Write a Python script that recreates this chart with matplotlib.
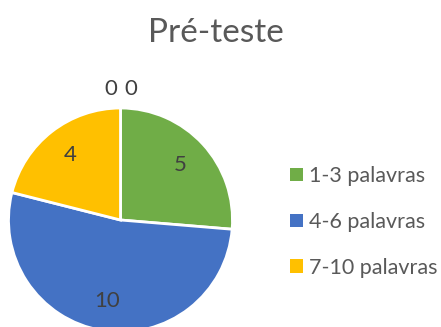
import matplotlib
matplotlib.use("Agg")
import matplotlib.pyplot as plt
from matplotlib.patches import Patch
import numpy as np

# Word-count groups for the pre-test
categories = ["", "", "1-3 palavras", "4-6 palavras", "7-10 palavras"]
values = [0, 0, 5, 10, 4]
colors = ["#A5A5A5", "#ED7D31", "#70AD47", "#4472C4", "#FFC000"]
title = "Pré-teste"

plt.rcParams["font.family"] = ["Lato", "DejaVu Sans"]

W, H = 441, 327
fig = plt.figure(figsize=(W / 100, H / 100), dpi=100)

# pie geometry in pixels
cx, cy, R = 120.5, 327 - 220, 112
ax = fig.add_axes([(cx - R) / W, (cy - R) / H, 2 * R / W, 2 * R / H])

wedges, _ = ax.pie(values, colors=colors, startangle=90, counterclock=False,
                   wedgeprops=dict(edgecolor="white", linewidth=2), radius=1)
ax.set_xlim(-1, 1)
ax.set_ylim(-1, 1)
ax.set_aspect("equal")
ax.axis("off")

# value labels
total = sum(values)
start = 90.0
zero_offsets = [-0.09, 0.09]
zi = 0
for v in values:
    sweep = 360.0 * v / total
    mid = np.deg2rad(start - sweep / 2)
    if v == 0:
        x, y = zero_offsets[zi], 1.17
        zi += 1
    else:
        x, y = 0.73 * np.cos(mid), 0.73 * np.sin(mid)
    ax.text(x, y, str(v), ha="center", va="center", fontsize=16,
            color="#404040", clip_on=False)
    start -= sweep

fig.text(216 / W, 1 - 33 / H, title, ha="center", va="center",
         fontsize=24, color="#595959")

handles = [Patch(facecolor=c, edgecolor="none") for c in colors[2:]]
fig.legend(handles, categories[2:], loc="center left",
           bbox_to_anchor=(290 / W, 1 - 222 / H), frameon=False,
           borderpad=0, borderaxespad=0,
           fontsize=15.5, labelcolor="#595959", handlelength=0.6,
           handleheight=0.6, handletextpad=0.3, labelspacing=1.2)

fig.savefig("out.png", dpi=100, facecolor="white")
